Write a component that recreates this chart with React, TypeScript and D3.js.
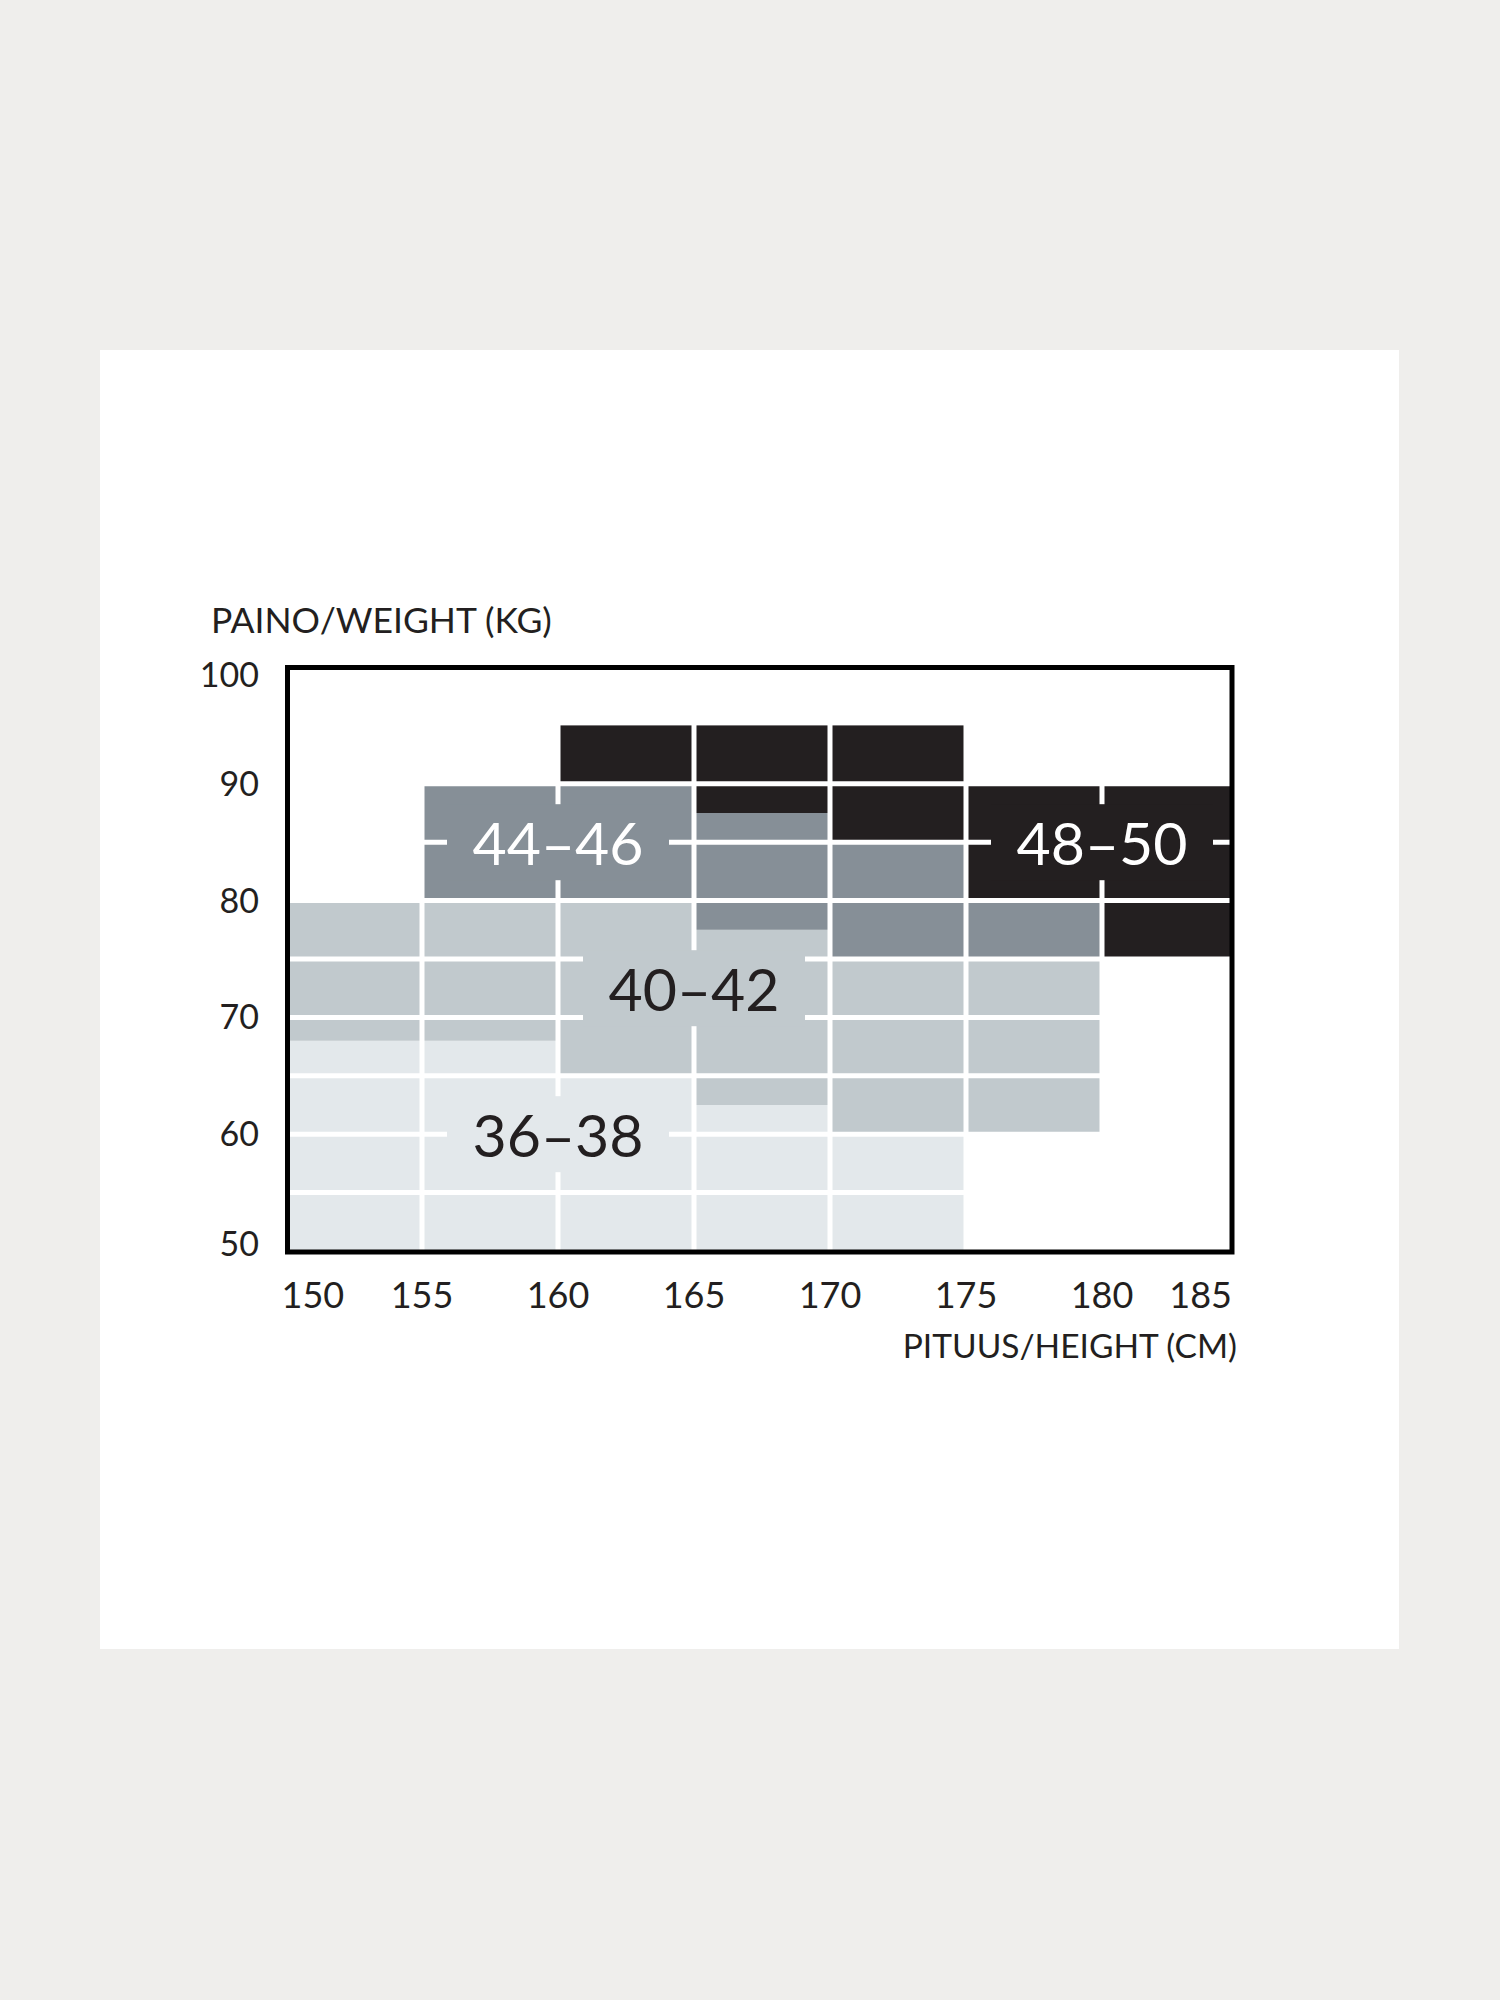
import React from 'react';
import * as d3 from 'd3';

// ---- data ----
const heightTicks = [150, 155, 160, 165, 170, 175, 180, 185];
const weightTicks = [50, 60, 70, 80, 90, 100];
const gridHeights = [155, 160, 165, 170, 175, 180];
const gridWeights = [55, 60, 65, 70, 75, 80, 85, 90];

const sizeNames = ['36–38', '40–42', '44–46', '48–50'];
// cells: [height from, height to, weight from, weight to]
const cells3638 = [
  [150, 160, 50, 68],
  [160, 165, 50, 65],
  [165, 170, 50, 62.5],
  [170, 175, 50, 60],
];
const cells4042 = [
  [150, 160, 68, 80],
  [160, 165, 65, 80],
  [165, 170, 62.5, 77.5],
  [170, 175, 60, 75],
  [175, 180, 60, 75],
];
const cells4446 = [
  [155, 165, 80, 90],
  [165, 170, 77.5, 87.5],
  [170, 175, 75, 85],
  [175, 180, 75, 80],
];
const cells4850 = [
  [160, 175, 90, 95],
  [165, 170, 87.5, 90],
  [170, 175, 85, 90],
  [175, 180, 80, 90],
  [180, 185, 75, 90],
];
const labelHeights = [160, 165, 160, 180];
const labelWeights = [60, 72.5, 85, 85];

const weightTitle = 'PAINO/WEIGHT (KG)';
const heightTitle = 'PITUUS/HEIGHT (CM)';

// ---- styles ----
const sizeColors = ['#e3e8eb', '#c1c9cd', '#868f97', '#231f20'];
const labelColors = ['#231f20', '#231f20', '#ffffff', '#ffffff'];
const FONT = "Lato, 'Noto Sans', 'DejaVu Sans', sans-serif";
const F = { left: 287.5, right: 1232, top: 667.5, bottom: 1252 };

export default function App() {
  const x = d3.scaleLinear().domain([150, 185]).range([286, 1238]);
  const y = d3.scaleLinear().domain([50, 100]).range([1251, 667]);
  const allCells = [cells3638, cells4042, cells4446, cells4850];

  return (
    <svg
      width={1500}
      height={2000}
      style={{ position: 'absolute', left: 0, top: 0 }}
      fontFamily={FONT}
    >
      <rect x={0} y={0} width={1500} height={2000} fill="#efeeec" />
      <rect x={100} y={350} width={1299} height={1299} fill="#ffffff" />
      <defs>
        <clipPath id="plotclip">
          <rect x={F.left} y={F.top} width={F.right - F.left} height={F.bottom - F.top} />
        </clipPath>
      </defs>
      <g clipPath="url(#plotclip)">
        {allCells.map((cells, si) =>
          cells.map((c, i) => (
            <rect
              key={`c${si}-${i}`}
              x={x(c[0])}
              y={y(c[3])}
              width={x(c[1]) - x(c[0])}
              height={y(c[2]) - y(c[3])}
              fill={sizeColors[si]}
            />
          ))
        )}
        {gridWeights.map((w) => (
          <line key={`hw${w}`} x1={F.left} x2={F.right} y1={y(w)} y2={y(w)} stroke="#fff" strokeWidth={5} />
        ))}
        {gridHeights.map((h) => (
          <line key={`vh${h}`} x1={x(h)} x2={x(h)} y1={F.top} y2={F.bottom} stroke="#fff" strokeWidth={5} />
        ))}
        {sizeNames.map((s, i) => (
          <rect
            key={`cov${i}`}
            x={x(labelHeights[i]) - 111}
            y={y(labelWeights[i]) - 38}
            width={222}
            height={76}
            fill={sizeColors[i]}
          />
        ))}
      </g>
      {sizeNames.map((s, i) => (
        <text
          key={`lab${i}`}
          x={x(labelHeights[i])}
          y={y(labelWeights[i]) + 23}
          textAnchor="middle"
          fontSize={59}
          fill={labelColors[i]}
        >
          {s}
        </text>
      ))}
      <rect
        x={F.left}
        y={F.top}
        width={F.right - F.left}
        height={F.bottom - F.top}
        fill="none"
        stroke="#000"
        strokeWidth={5}
      />
      {weightTicks.map((w) => {
        const cy = Math.min(Math.max(y(w), F.top + 7), F.bottom - 8);
        return (
          <text key={`yt${w}`} x={259} y={cy + 12} textAnchor="end" fontSize={34} fill="#231f20">
            {w}
          </text>
        );
      })}
      {heightTicks.map((h, i) => {
        const first = i === 0;
        const last = i === heightTicks.length - 1;
        const tx = first ? F.left - 6 : last ? F.right : x(h);
        return (
          <text
            key={`xt${h}`}
            x={tx}
            y={1308}
            textAnchor={first ? 'start' : last ? 'end' : 'middle'}
            fontSize={36}
            fill="#231f20"
          >
            {h}
          </text>
        );
      })}
      <text x={211} y={633} fontSize={35.5} fill="#231f20">
        {weightTitle}
      </text>
      <text x={1237} y={1358} textAnchor="end" fontSize={33.5} fill="#231f20">
        {heightTitle}
      </text>
    </svg>
  );
}
